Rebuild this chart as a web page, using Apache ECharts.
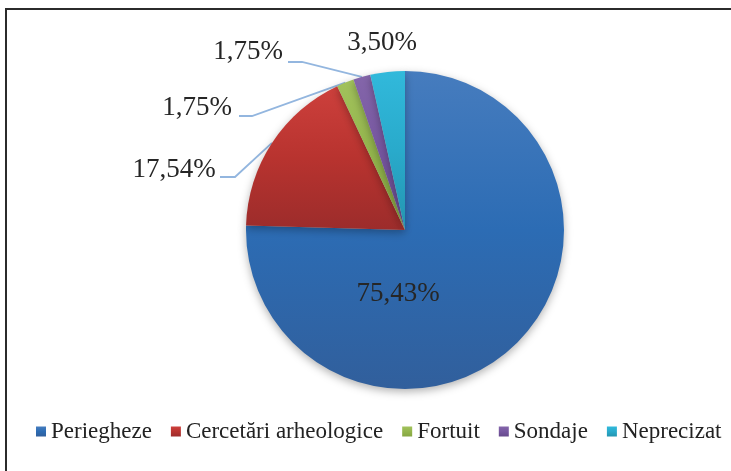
<!DOCTYPE html>
<html>
<head>
<meta charset="utf-8">
<script src="https://cdn.jsdelivr.net/npm/echarts@6/dist/echarts.min.js"></script>
<style>
    html, body { margin: 0; padding: 0; background: #fff; }
    #chart { width: 731px; height: 471px; }
</style>
</head>
<body>
<div id="chart"></div>
<script>
// date
const categories = ['Periegheze', 'Cercetări arheologice', 'Fortuit', 'Sondaje', 'Neprecizat'];
const values = [75.43, 17.54, 1.75, 1.75, 3.50];

// culori (sus -> jos, ca gradientul din Excel)
const topColors = ['#467cbe', '#cd403c', '#a2c25c', '#8466aa', '#31b9db'];
const midColors = ['#2c6cb4', '#b8332f', '#93b54c', '#7656a0', '#29aacb'];
const bottomColors = ['#315f9c', '#9c2c2b', '#86a642', '#664a8c', '#2495b0'];

// pozitiile etichetelor (centru text) si capatul liniei de legatura
const labelSpots = [
    { x: 398, y: 294 },
    { x: 174, y: 170, line: [[235, 177], [220, 177]] },
    { x: 197, y: 108, line: [[252, 116], [239, 116]] },
    { x: 248, y: 52, line: [[302, 62], [288, 62]] },
    { x: 382, y: 43 }
];

(function () {
    let myChart = echarts.init(document.getElementById('chart'));

    const serif = 'Liberation Serif';

    let seriesData = categories.map(function (name, i) {
        return {
            name: name,
            value: values[i],
            itemStyle: {
                color: new echarts.graphic.LinearGradient(0, 0, 0, 1, [
                    { offset: 0, color: topColors[i] },
                    { offset: 0.5, color: midColors[i] },
                    { offset: 1, color: bottomColors[i] }
                ])
            },
            labelLine: { show: !!labelSpots[i].line }
        };
    });

    let option = {
        backgroundColor: '#fff',
        animation: false,
        graphic: [
            {
                type: 'rect',
                shape: { x: 6, y: 9, width: 900, height: 700 },
                style: { fill: 'none', stroke: '#2b2b2b', lineWidth: 2 },
                silent: true
            }
        ],
        legend: {
            left: 36,
            top: 420,
            width: 720,
            padding: 0,
            itemWidth: 10,
            itemHeight: 10,
            itemGap: 19,
            icon: 'rect',
            textStyle: {
                fontFamily: serif,
                fontSize: 23,
                color: '#222'
            },
            data: categories
        },
        series: [
            {
                type: 'pie',
                center: [405, 230],
                radius: 159,
                startAngle: 90,
                clockwise: true,
                avoidLabelOverlap: false,
                itemStyle: {
                    shadowBlur: 8,
                    shadowOffsetY: 3,
                    shadowColor: 'rgba(0,0,0,0.3)'
                },
                label: {
                    show: true,
                    position: 'outside',
                    fontFamily: serif,
                    fontSize: 27,
                    color: '#262626',
                    formatter: function (p) {
                        return p.value.toFixed(2).replace('.', ',') + '%';
                    }
                },
                labelLine: {
                    lineStyle: { color: '#93b6df', width: 1.8 },
                    length: 10,
                    length2: 10
                },
                labelLayout: function (params) {
                    let spot = labelSpots[params.dataIndex];
                    let res = {
                        x: spot.x,
                        y: spot.y,
                        align: 'center',
                        verticalAlign: 'middle'
                    };
                    if (spot.line && params.labelLinePoints) {
                        res.labelLinePoints = [params.labelLinePoints[0], spot.line[0], spot.line[1]];
                    }
                    return res;
                },
                emphasis: { disabled: true },
                data: seriesData
            }
        ]
    };
    myChart.setOption(option);
})();
</script>
</body>
</html>
